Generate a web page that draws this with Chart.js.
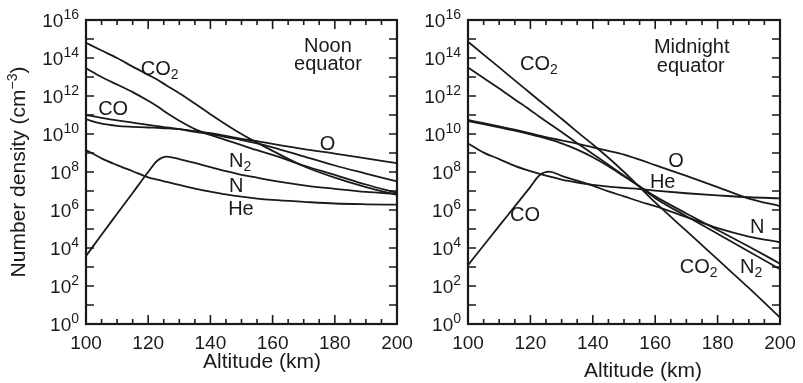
<!DOCTYPE html>
<html>
<head>
<meta charset="utf-8">
<script src="https://cdn.jsdelivr.net/npm/chart.js@4.4.1/dist/chart.umd.min.js"></script>
<style>
  body { margin: 0; background: #fff; }
  #wrap { position: relative; width: 803px; height: 383px; overflow: hidden; }
  canvas { position: absolute; top: 0; }
</style>
</head>
<body>
<div id="wrap">
  <canvas id="noon" width="430" height="383" style="left:0"></canvas>
  <canvas id="midnight" width="403" height="383" style="left:400px"></canvas>
</div>
<script>
// altitude (km) where the curves were read
const altitudes = [100, 105, 110, 115, 120, 123, 126, 130, 135, 140, 145, 150, 155, 160, 170, 180, 190, 200];

// number density (cm^-3), noon equator
const noonCO2 = [6.3e14, 2.5e14, 1e14, 3.5e13, 1.3e13, 7.1e12, 3.5e12, 1.4e12, 4e11, 1.1e11, 3.2e10, 1e10, 3.5e9, 1.3e9, 2e8, 5e7, 1.6e7, 6.3e6];
const noonN2  = [2.9e13, 1e13, 4e12, 1.6e12, 5.6e11, 2.8e11, 1.26e11, 5e10, 1.8e10, 8.9e9, 4.8e9, 2.6e9, 1.4e9, 7.9e8, 2.2e8, 7.1e7, 2.2e7, 7.9e6];
const noonCO  = [1e11, 7.1e10, 5.2e10, 4e10, 3e10, 2.6e10, 2.2e10, 1.8e10, 1.3e10, 1e10, 6.9e9, 4.8e9, 3.2e9, 2e9, 6.6e8, 2.2e8, 8.3e7, 3.2e7];
const noonO   = [5.9e10, 3.5e10, 2.7e10, 2.4e10, 2.2e10, 2.1e10, 2e10, 1.8e10, 1.4e10, 1.1e10, 7.9e9, 5.6e9, 4.2e9, 3e9, 1.6e9, 9.3e8, 5.2e8, 2.9e8];
const noonN   = [3.8e3, 5e4, 6.3e5, 7.9e6, 1e8, 4e8, 6.5e8, 4.8e8, 3e8, 1.8e8, 1.1e8, 7.1e7, 5e7, 3.5e7, 2e7, 1.3e7, 8.9e6, 7.1e6];
const noonHe  = [1.45e9, 5.2e8, 2.3e8, 1.1e8, 5.2e7, 4e7, 3e7, 2.1e7, 1.35e7, 9.3e6, 6.6e6, 5e6, 4e6, 3.4e6, 2.7e6, 2.2e6, 2e6, 1.9e6];

// number density (cm^-3), midnight equator
const midCO2 = [7.2e14, 1.5e14, 3.2e13, 6.6e12, 1.4e12, 5.5e11, 2.2e11, 6.3e10, 1.3e10, 2.8e9, 5.6e8, 1e8, 1.6e7, 2.5e6, 7.9e4, 2.5e3, 79, 2.2];
const midN2  = [3.2e13, 8.9e12, 2.5e12, 6.6e11, 1.8e11, 7.9e10, 3.6e10, 1.26e10, 3.3e9, 8.9e8, 2.4e8, 6.3e7, 1.7e7, 4.2e6, 4.7e5, 5.6e4, 6.6e3, 760];
const midO   = [5.5e10, 3.7e10, 2.5e10, 1.7e10, 1.07e10, 8.1e9, 6.3e9, 4.6e9, 3.1e9, 2e9, 1.3e9, 8.3e8, 4.5e8, 2.3e8, 6.3e7, 1.6e7, 4e6, 1.6e6];
const midN   = [4.8e10, 3.3e10, 2.2e10, 1.5e10, 9.5e9, 7.2e9, 5.2e9, 3.2e9, 1.5e9, 6e8, 2e8, 6e7, 1.8e7, 5.2e6, 6.6e5, 8.9e4, 1.2e4, 1.5e3];
const midHe  = [3.2e9, 1.05e9, 4.8e8, 2.1e8, 1.1e8, 7.9e7, 5.9e7, 4e7, 2.8e7, 2.1e7, 1.7e7, 1.45e7, 1.26e7, 1.05e7, 7.6e6, 5.9e6, 4.7e6, 4.1e6];
const midCO  = [1.26e3, 1.35e4, 1.45e5, 1.55e6, 1.66e7, 6.9e7, 1.05e8, 6.3e7, 3.5e7, 1.9e7, 9.5e6, 5.2e6, 2.8e6, 1.6e6, 4.2e5, 1.1e5, 4e4, 2e4];

// axis tick labels
const xTickLabels = [100, 120, 140, 160, 180, 200];
const yTickExponents = [0, 2, 4, 6, 8, 10, 12, 14, 16];

// curve labels: [text, subscript, altitude, density, align]
const noonNotes = [
  ['Noon', '', 177.8, 2.1e14, 'center'],
  ['equator', '', 177.8, 2.3e13, 'center'],
  ['CO', '2', 117.6, 1.3e13, 'left'],
  ['CO', '', 103.9, 1e11, 'left'],
  ['O', '', 175.2, 1.45e9, 'left'],
  ['N', '2', 146, 1.9e8, 'left'],
  ['N', '', 146, 9.1e6, 'left'],
  ['He', '', 145.7, 5.5e5, 'left']
];
const midNotes = [
  ['Midnight', '', 171.7, 1.9e14, 'center'],
  ['equator', '', 171.4, 1.9e13, 'center'],
  ['CO', '2', 116.7, 2.3e13, 'left'],
  ['O', '', 164.2, 1.9e8, 'left'],
  ['He', '', 158.3, 1.4e7, 'left'],
  ['CO', '', 113.5, 2.5e5, 'left'],
  ['N', '', 190.4, 5.9e4, 'left'],
  ['CO', '2', 167.9, 470, 'left'],
  ['N', '2', 187.2, 470, 'left']
];

const FONT = '"Liberation Sans", Arial, Helvetica, sans-serif';
const INK = '#1a1a1a';

// draw a run of text pieces [text, size, dy] starting at x
function drawPieces(ctx, pieces, x, y, align) {
  let total = 0;
  const widths = pieces.map(p => {
    ctx.font = p[1] + 'px ' + FONT;
    const w = ctx.measureText(p[0]).width;
    total += w;
    return w;
  });
  let cx = x;
  if (align === 'center') cx = x - total / 2;
  if (align === 'right') cx = x - total;
  pieces.forEach((p, i) => {
    ctx.font = p[1] + 'px ' + FONT;
    ctx.fillText(p[0], cx, y + p[2]);
    cx += widths[i];
  });
}

function panelPlugin(notes, titleX, titleY, withYTitle) {
  return {
    id: 'panel',
    afterDatasetsDraw(chart) {
      const ctx = chart.ctx;
      const a = chart.chartArea;
      const xs = chart.scales.x;
      const ys = chart.scales.y;
      ctx.save();
      ctx.strokeStyle = INK;
      ctx.fillStyle = INK;
      ctx.textAlign = 'left';
      ctx.textBaseline = 'alphabetic';

      // inward ticks on all four sides
      ctx.lineWidth = 1.6;
      ctx.beginPath();
      for (let v = 100; v <= 200; v += 5) {
        const px = xs.getPixelForValue(v);
        const len = v % 20 === 0 ? 9 : 5;
        ctx.moveTo(px, a.bottom); ctx.lineTo(px, a.bottom - len);
        ctx.moveTo(px, a.top); ctx.lineTo(px, a.top + len);
      }
      for (let e = 0; e <= 16; e++) {
        const py = ys.getPixelForValue(Math.pow(10, e));
        ctx.moveTo(a.left, py); ctx.lineTo(a.left + 8, py);
        ctx.moveTo(a.right, py); ctx.lineTo(a.right - 8, py);
      }
      ctx.stroke();

      // frame
      ctx.lineWidth = 2.2;
      ctx.strokeRect(a.left, a.top, a.right - a.left, a.bottom - a.top);

      // x tick labels
      xTickLabels.forEach(v => {
        drawPieces(ctx, [[String(v), 19, 0]], xs.getPixelForValue(v), a.bottom + 25, 'center');
      });
      // y tick labels 10^n
      yTickExponents.forEach(e => {
        const py = ys.getPixelForValue(Math.pow(10, e));
        drawPieces(ctx, [['10', 19, 0], [String(e), 14, -8]], a.left - 7, py + 7, 'right');
      });

      // axis titles
      drawPieces(ctx, [['Altitude (km)', 21, 0]], titleX, titleY, 'center');
      if (withYTitle) {
        ctx.save();
        ctx.translate(25, (a.top + a.bottom) / 2);
        ctx.rotate(-Math.PI / 2);
        drawPieces(ctx, [['Number density (cm', 21, 0], ['\u22123', 14, -8], [')', 21, 0]], 0, 0, 'center');
        ctx.restore();
      }

      // curve labels
      notes.forEach(n => {
        const px = xs.getPixelForValue(n[2]);
        const py = ys.getPixelForValue(n[3]);
        const pieces = [[n[0], 20, 0]];
        if (n[1]) pieces.push([n[1], 14, 4]);
        drawPieces(ctx, pieces, px, py, n[4]);
      });
      ctx.restore();
    }
  };
}

function makePanel(id, seriesList, notes, padding, titleX, titleY, withYTitle) {
  return new Chart(document.getElementById(id), {
    type: 'line',
    data: {
      datasets: seriesList.map(s => ({
        label: s[0],
        data: altitudes.map((alt, i) => ({ x: alt, y: s[1][i] })),
        borderColor: INK,
        borderWidth: 1.8,
        pointRadius: 0,
        fill: false,
        cubicInterpolationMode: 'monotone'
      }))
    },
    options: {
      responsive: false,
      animation: false,
      devicePixelRatio: 1,
      layout: { padding: padding },
      plugins: {
        legend: { display: false },
        tooltip: { enabled: false }
      },
      scales: {
        x: { type: 'linear', min: 100, max: 200, display: false },
        y: { type: 'logarithmic', min: 1, max: 1e16, display: false }
      }
    },
    plugins: [panelPlugin(notes, titleX, titleY, withYTitle)]
  });
}

makePanel('noon', [
  ['CO2', noonCO2], ['N2', noonN2], ['CO', noonCO], ['O', noonO], ['N', noonN], ['He', noonHe]
], noonNotes, { left: 86, right: 33, top: 20, bottom: 59 }, 262, 368, true);

makePanel('midnight', [
  ['CO2', midCO2], ['N2', midN2], ['O', midO], ['N', midN], ['He', midHe], ['CO', midCO]
], midNotes, { left: 68, right: 23, top: 20, bottom: 59 }, 243, 377, false);
</script>
</body>
</html>
